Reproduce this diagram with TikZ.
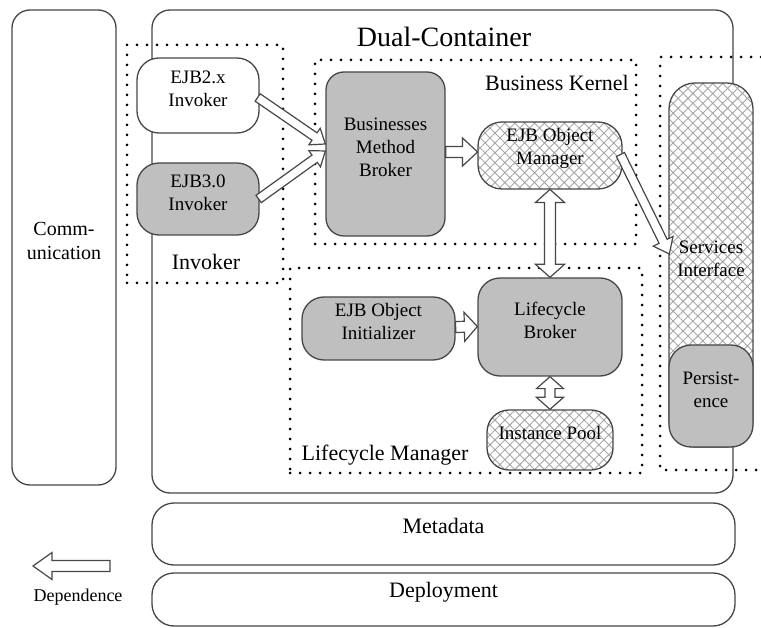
\documentclass[tikz,border=0pt]{standalone}
\usepackage{fontspec}
\setmainfont{LiberationSerif-Regular.ttf}[BoldFont=LiberationSerif-Bold.ttf]
\usetikzlibrary{calc,fit,patterns.meta}

\newcommand\boxfont{\fontsize{19}{23}\selectfont}

\tikzset{
  shaft/.store in=\ashaft, headw/.store in=\ahead, headl/.store in=\alen,
  shaft=5pt, headw=13pt, headl=13pt,
  edgecol/.style={draw=black!72, line width=1.3pt},
  box/.style={edgecol, rounded corners=18pt, inner sep=0pt, align=center, font=\boxfont},
  plain/.style={box, fill=white},
  grey/.style={box, fill=black!25},
  hatched/.style={box, preaction={fill=white},
    pattern={Hatch[angle=45,distance=7pt,line width=0.9pt]}, pattern color=black!35},
  region/.style={draw=black, line width=3pt, line cap=round, dash pattern=on 0pt off 10pt},
  regionlabel/.style={font=\fontsize{22}{26}\selectfont},
  bandlabel/.style={font=\fontsize{22}{26}\selectfont},
  blockarrow/.style={draw=black!72, line width=1.2pt, fill=white, line join=miter},
}

% hollow block arrow from #2 to #3
\newcommand\onearrow[3][]{%
  \path[blockarrow,#1] let \p1=#2, \p2=#3,
    \n1={atan2(\y2-\y1,\x2-\x1)}, \n2={veclen(\x2-\x1,\y2-\y1)} in
    ($(\p1)+(\n1+90:\ashaft)$)
    -- ($(\p1)+(\n1:\n2-\alen)+(\n1+90:\ashaft)$)
    -- ($(\p1)+(\n1:\n2-\alen)+(\n1+90:\ahead)$)
    -- (\p2)
    -- ($(\p1)+(\n1:\n2-\alen)+(\n1-90:\ahead)$)
    -- ($(\p1)+(\n1:\n2-\alen)+(\n1-90:\ashaft)$)
    -- ($(\p1)+(\n1-90:\ashaft)$) -- cycle;}

% hollow block arrow with a head at both ends
\newcommand\twoarrow[3][]{%
  \path[blockarrow,#1] let \p1=#2, \p2=#3,
    \n1={atan2(\y2-\y1,\x2-\x1)}, \n2={veclen(\x2-\x1,\y2-\y1)} in
    (\p1)
    -- ($(\p1)+(\n1:\alen)+(\n1+90:\ahead)$)
    -- ($(\p1)+(\n1:\alen)+(\n1+90:\ashaft)$)
    -- ($(\p1)+(\n1:\n2-\alen)+(\n1+90:\ashaft)$)
    -- ($(\p1)+(\n1:\n2-\alen)+(\n1+90:\ahead)$)
    -- (\p2)
    -- ($(\p1)+(\n1:\n2-\alen)+(\n1-90:\ahead)$)
    -- ($(\p1)+(\n1:\n2-\alen)+(\n1-90:\ashaft)$)
    -- ($(\p1)+(\n1:\alen)+(\n1-90:\ashaft)$)
    -- ($(\p1)+(\n1:\alen)+(\n1-90:\ahead)$)
    -- cycle;}

\begin{document}
\begin{tikzpicture}[x=1pt,y=-1pt]
\useasboundingbox (0,0) rectangle (761,628);

% left column and container frame
\node[plain, fit={(12,10)(116,485)}, font=\fontsize{20}{24}\selectfont] (comm) {Comm-\\unication};
\node[plain, fit={(152,10)(733,493)}] (dual) {};
\node[font=\fontsize{28}{32}\selectfont] (title) at (444,37) {Dual-Container};

% dotted groupings
\node[region, inner sep=0pt, fit={(127,45)(283,283)}] (invreg) {};
\node[region, inner sep=0pt, fit={(315,60)(636,244)}] (bkreg) {};
\node[region, inner sep=0pt, fit={(290,268)(642,473)}] (lcreg) {};
\coordinate (svc-a) at (761,57);
\coordinate (svc-b) at (660,57);
\coordinate (svc-c) at (660,470);
\coordinate (svc-d) at (761,470);
\draw[region] (svc-a) -- (svc-b) -- (svc-c) -- (svc-d);

\node[regionlabel] (invlabel) at (206,262) {Invoker};
\node[regionlabel] (bklabel) at (557,83) {Business Kernel};
\node[regionlabel] (lclabel) at (385,455) {Lifecycle Manager};

% invokers
\node[plain, rounded corners=22pt, fit={(137,58)(259,133)}] (inv2) {EJB2.x\\Invoker};
\node[grey, rounded corners=22pt, fit={(137,163)(259,235)}] (inv3) {EJB3.0\\Invoker};

% business kernel
\node[grey, fit={(326,72)(445,236)}] (bmb) {Businesses\\Method\\Broker};
\node[hatched, rounded corners=24pt, fit={(478,122)(622,189)}] (eom) {EJB Object\\Manager};

% lifecycle manager
\node[grey, rounded corners=22pt, fit={(302,297)(455,360)}] (eoi) {EJB Object\\Initializer};
\node[grey, rounded corners=22pt, fit={(478,278)(622,376)}] (lb) {Lifecycle\\Broker};
\node[hatched, rounded corners=22pt, fit={(487,410)(613,470)}] (ipool) {Instance Pool};

% services pillar
\node[hatched, rounded corners=26pt, fit={(669,83)(753,447)}] (si) {Services\\Interface};
\node[grey, rounded corners=22pt, fit={(669,345)(753,447)}] (pers) {Persist-\\ence};

% lower bands
\node[plain, rounded corners=22pt, fit={(152,503)(735,565)}, bandlabel] (meta) {Metadata};
\node[plain, rounded corners=22pt, fit={(152,573)(735,626)}, bandlabel] (depl) {Deployment};

% dependences
\onearrow[shaft=4.5pt, headw=10pt, headl=13pt]{($(inv2.east)+(-2,2)$)}{($(bmb.west)+(0,-10)$)}
\onearrow[shaft=4.5pt, headw=10pt, headl=13pt]{($(inv3.east)+(-1,0)$)}{($(bmb.west)+(0,-3)$)}
\onearrow[shaft=5.5pt, headw=14pt, headl=15pt]{($(bmb.east)+(0,-2)$)}{($(eom.west)+(0,-3.5)$)}
\onearrow[shaft=4.5pt, headw=11pt, headl=14pt]{($(eom.east)+(-2,-1)$)}{($(si.west)+(1,-11)$)}
\twoarrow[shaft=5.5pt, headw=14.5pt, headl=13pt]{(eom.south)}{(lb.north)}
\onearrow[shaft=5.5pt, headw=14.5pt, headl=13pt]{($(eoi.east)+(0,-1.5)$)}{($(lb.west)+(0,-0.5)$)}
\twoarrow[shaft=5pt, headw=13.5pt, headl=12pt]{(lb.south)}{(ipool.north)}

% legend
\coordinate (dep-tail) at (110,566);
\coordinate (dep-tip) at (33,566);
\onearrow[shaft=5.5pt, headw=13.5pt, headl=19pt]{(dep-tail)}{(dep-tip)}
\node[font=\fontsize{18}{22}\selectfont] (deplabel) at (78,597) {Dependence};
\end{tikzpicture}
\end{document}
